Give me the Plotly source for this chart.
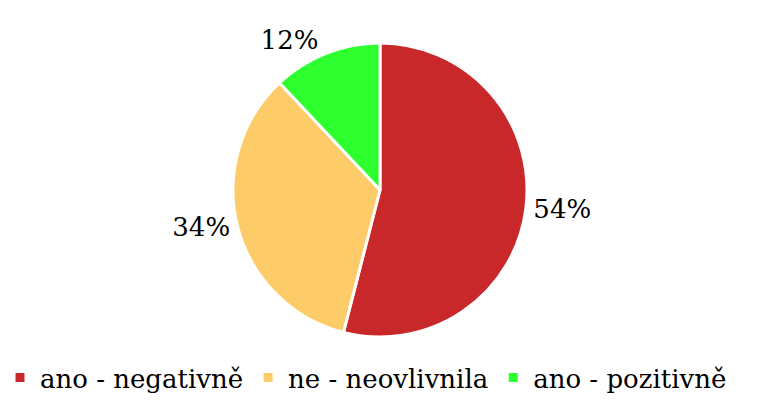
import plotly.graph_objects as go

labels = ["ano - negativně", "ne - neovlivnila", "ano - pozitivně"]
values = [54, 34, 12]
colors = ["#C9282A", "#FECB69", "#2EFF2E"]

SERIF = "DejaVu Serif"

fig = go.Figure(go.Pie(
    labels=labels,
    values=values,
    sort=False,
    direction="clockwise",
    rotation=0,
    domain=dict(x=[0, 1], y=[64 / 401, 358 / 401]),
    marker=dict(colors=colors, line=dict(color="white", width=3)),
    textinfo="percent",
    texttemplate="%{percent:.0%}",
    textposition="outside",
    textfont=dict(family=SERIF, size=26, color="black"),
    hoverinfo="label+percent",
))

fig.update_layout(
    width=760, height=401,
    margin=dict(l=0, r=0, t=0, b=0, autoexpand=False),
    paper_bgcolor="white",
    font=dict(family=SERIF, size=26, color="black"),
    showlegend=True,
    legend=dict(
        orientation="h",
        xref="container", yref="container",
        x=0, xanchor="left",
        y=-0.04, yanchor="bottom",
        font=dict(family=SERIF, size=26, color="black"),
    ),
)

fig.write_html("out.html", post_script="document.body.style.margin='0';",
               config={"displayModeBar": False})
